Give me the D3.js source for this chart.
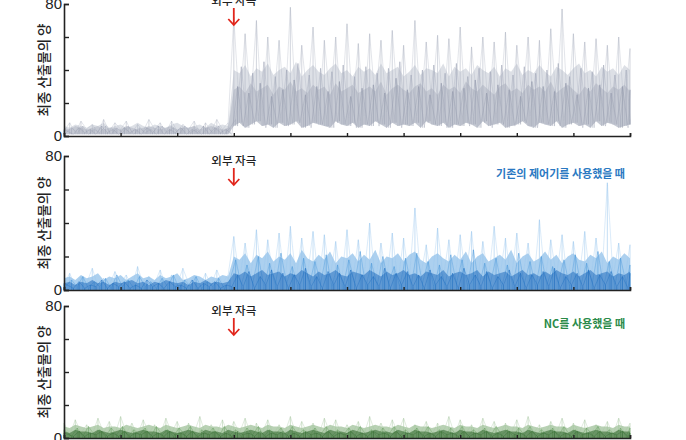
<!DOCTYPE html>
<html><head><meta charset="utf-8">
<script src="https://cdn.jsdelivr.net/npm/d3@7"></script>
<style>body{margin:0;background:#fff}svg{display:block}</style>
</head><body>
<svg id="c" width="686" height="440"></svg>
<script>
// ---- data ----
const xTicks = [0,10,20,30,40,50,60,70,80,90,100];
const yTicks = [0,20,40,60,80];
const yTickLabels = {0:"0", 80:"80"};
const stimulusX = 30;
const yTitle = "최종 산출물의 양";
const stimulusLabel = "외부 자극";
const legendLabels = ["", "기존의 제어기를 사용했을 때", "NC를 사용했을 때"];

// panel 1 (gray) : dense band (lower/upper edge), darker core, and spiky traces
const gBandLo = [1,1,1,1,1,1,1,1,1,1,1,1,1,1,1,1,1,1,1,1,1,1,1,1,1,1,1,1,1,1,
 6,8,5,7,9,6,7,5,8,6,7,9,5,6,8,7,6,5,9,7,6,8,5,7,6,9,7,5,8,6,
 7,6,8,5,9,7,6,8,5,7,6,8,7,5,9,6,7,8,5,6,7,9,6,5,8,7,6,9,5,7,
 8,6,7,5,9,6,8,7,5,6,7];
const gBandHi = [6,5,7,6,5,7,6,8,5,6,7,5,6,8,6,5,7,6,5,7,8,6,5,6,7,5,8,6,7,6,
 40,38,43,36,41,39,44,37,40,42,38,45,36,40,43,39,37,41,44,38,40,36,42,39,41,37,44,38,40,42,
 36,39,43,37,41,40,38,44,36,42,39,41,37,43,40,38,42,36,41,39,44,37,40,38,43,39,36,42,40,37,
 41,44,38,40,36,42,39,41,37,43,40];
const gCore = [5,4,6,5,4,5,6,4,5,5,4,6,5,4,5,6,5,4,5,6,4,5,5,6,4,5,6,5,4,5,
 28,30,26,32,27,29,31,25,30,28,33,27,29,26,31,28,30,25,32,27,29,31,26,28,30,27,33,25,29,31,
 28,26,30,32,27,29,25,31,28,30,26,33,29,27,31,28,25,30,32,27,29,26,31,28,30,27,33,26,29,31,
 28,25,30,27,32,29,26,30,28,31,27];
const gHigh = [3,8,2,9,4,7,2,10,3,8,4,9,2,7,3,10,4,8,2,9,3,7,4,9,2,8,3,10,4,8,
 72,15,62,20,70,12,60,18,58,14,78,16,55,22,66,12,58,20,60,15,68,18,56,12,62,20,58,14,64,18,
 55,12,70,16,57,20,61,14,59,18,66,12,54,20,60,15,57,18,63,12,55,20,60,16,58,12,65,18,77,14,
 62,20,57,12,59,18,55,14,60,16,53];
const gMid = [1,5,2,6,1,4,2,6,1,5,2,6,1,5,2,4,1,6,2,5,1,6,2,4,1,5,2,6,1,5,
 10,42,8,38,12,45,9,36,11,40,8,44,12,37,9,41,10,39,8,43,11,36,9,42,12,38,8,41,10,45,
 9,37,12,40,8,43,11,38,9,44,10,36,12,41,8,39,11,43,9,37,10,42,12,38,8,40,11,44,9,36,
 12,41,8,39,10,43,9,37,11,40,10];
const gLow = [4,1,5,2,4,1,6,2,4,1,5,2,4,1,5,2,6,1,4,2,5,1,4,2,6,1,5,2,4,1,
 30,6,26,8,32,5,24,7,28,6,34,8,25,5,30,7,27,6,33,8,24,5,29,7,31,6,26,8,35,5,
 28,7,30,6,25,8,32,5,27,7,29,6,34,8,26,5,31,7,28,6,24,8,33,5,30,7,27,6,32,8,
 25,5,29,7,31,6,26,8,30,5,28];

// panel 2 (blue, conventional controller)
const bBandHi = [7,8,6,9,7,8,10,6,8,7,9,6,8,10,7,8,6,9,7,8,10,6,7,9,8,6,8,7,9,8,
 20,18,22,16,21,19,23,17,20,18,22,16,24,19,17,21,18,23,16,20,19,22,17,21,18,24,16,20,19,22,
 17,21,23,18,16,20,22,19,17,21,18,23,16,20,22,17,19,21,18,24,16,20,22,17,19,23,18,21,16,20,
 22,18,17,21,19,23,16,20,18,22,19];
const bCore = [4,5,3,5,4,6,4,5,3,5,4,5,6,4,5,3,5,4,6,5,4,5,3,5,4,6,4,5,4,5,
 10,9,11,8,10,12,9,10,11,8,10,9,12,10,8,11,9,10,12,9,8,11,10,9,12,10,8,11,9,10,
 12,9,10,8,11,10,9,12,8,10,11,9,10,12,8,11,9,10,11,8,10,12,9,10,8,11,9,12,10,9,
 11,8,10,12,9,10,11,8,10,9,11];
const bHigh = [3,10,2,8,4,13,2,7,3,11,4,9,2,14,3,8,4,12,2,9,3,13,4,8,2,10,3,12,4,9,
 32,6,28,8,36,5,30,7,34,4,38,6,31,8,35,5,33,7,29,4,36,6,30,8,40,5,28,7,34,4,
 31,6,49,8,27,5,37,7,30,4,33,7,35,4,29,6,38,8,31,5,34,7,28,4,42,6,30,8,33,5,
 29,7,35,4,31,6,64,8,28,5,27];
const bMid = [1,6,2,8,1,5,2,7,1,9,2,6,1,8,2,5,1,7,2,9,1,6,2,8,1,5,2,7,1,6,
 18,3,15,4,20,2,16,3,22,4,14,2,19,3,17,4,21,2,15,3,18,4,23,2,16,3,20,4,14,2,
 19,3,22,4,17,2,15,3,21,4,18,2,24,3,16,4,19,2,15,3,22,4,17,2,20,3,14,4,18,2,
 21,3,16,4,23,2,17,3,19,4,15];
const bLow = [4,1,5,1,3,2,6,1,4,2,5,1,3,1,6,2,4,1,5,2,3,1,6,1,4,2,5,1,3,2,
 9,2,11,1,8,3,12,2,10,1,9,3,13,2,8,1,11,3,10,2,12,1,9,3,8,2,13,1,10,3,
 11,2,9,1,12,3,8,2,10,1,13,3,9,2,11,1,8,3,12,2,10,1,9,3,11,2,13,1,8,3,
 10,2,12,1,9,3,11,2,8,1,10];

// panel 3 (green, NC)
const nBandHi = [7,6,8,7,6,7,8,6,7,7,6,8,7,6,7,8,7,6,8,7,6,7,8,7,6,8,7,7,6,8,
 7,6,7,8,7,6,8,7,7,6,8,7,6,7,8,7,6,8,7,7,6,8,7,6,7,8,7,7,6,8,
 7,6,8,7,7,6,7,8,7,6,8,7,7,6,8,7,6,7,8,7,7,6,8,7,6,7,8,7,7,6,
 8,7,6,7,8,7,7,6,8,7,7];
const nCore = [4,3,5,4,4,3,5,4,3,4,5,4,3,4,5,4,4,3,5,4,3,4,5,4,3,5,4,4,3,5,
 4,3,4,5,4,3,5,4,4,3,5,4,3,4,5,4,3,5,4,4,3,5,4,3,4,5,4,4,3,5,
 4,3,5,4,4,3,4,5,4,3,5,4,4,3,5,4,3,4,5,4,4,3,5,4,3,4,5,4,4,3,
 5,4,3,4,5,4,4,3,5,4,4];
const nHigh = [9,2,11,3,8,2,12,3,10,2,13,3,9,2,11,3,8,2,12,3,10,2,9,3,13,2,8,3,11,2,
 10,3,12,2,9,3,11,2,8,3,13,2,10,3,9,2,12,3,11,2,8,3,10,2,13,3,9,2,11,3,
 12,2,8,3,10,2,9,3,13,2,11,3,8,2,12,3,10,2,9,3,11,2,13,3,8,2,10,3,12,2,
 9,3,11,2,8,3,10,2,12,3,9];
const nMid = [5,1,6,1,7,2,5,1,6,2,7,1,5,2,6,1,7,2,5,1,6,2,7,1,5,2,6,1,7,2,
 5,1,6,2,7,1,5,2,6,1,7,2,5,1,6,2,7,1,5,2,6,1,7,2,5,1,6,2,7,1,
 5,2,6,1,7,2,5,1,6,2,7,1,5,2,6,1,7,2,5,1,6,2,7,1,5,2,6,1,7,2,
 5,1,6,2,7,1,5,2,6,1,6];
const nLow = [3,1,4,1,3,2,4,1,3,1,4,1,3,2,4,1,3,1,4,2,3,1,4,1,3,2,4,1,3,1,
 4,2,3,1,4,1,3,2,4,1,3,1,4,2,3,1,4,1,3,2,4,1,3,1,4,2,3,1,4,1,
 3,2,4,1,3,1,4,2,3,1,4,1,3,2,4,1,3,1,4,2,3,1,4,1,3,2,4,1,3,1,
 4,2,3,1,4,1,3,2,4,1,3];

// ---- layout ----
const xL = 64, xR = 630;
const panels = [
  {top:4,   bottom:136, bandLo:gBandLo, bandHi:gBandHi, core:gCore, bandCol:"#bcc1cd", coreCol:"#979eb0", bandOp:0.5, coreOp:0.35,
   series:[gHigh,gMid,gLow], cols:["#b0b5c4","#a0a6b7","#8e95a8"], legendCol:null, textY:0, arrowY:[8,25]},
  {top:156, bottom:290, bandLo:null, bandHi:bBandHi, core:bCore, bandCol:"#5aa1df", coreCol:"#1766ba", bandOp:0.5, coreOp:0.5,
   series:[bHigh,bMid,bLow], cols:["#98c5ed","#4596da","#1a6bbf"], legendCol:"#2a78c2", textY:160, arrowY:[168,185]},
  {top:306, bottom:438, bandLo:null, bandHi:nBandHi, core:nCore, bandCol:"#6fa367", coreCol:"#2b6428", bandOp:0.5, coreOp:0.55,
   series:[nHigh,nMid,nLow], cols:["#a6c7a0","#5f9a57","#357030"], legendCol:"#2a8a48", textY:310, arrowY:[318,335]}
];

const svg = d3.select("#c");
const defs = svg.append("defs");
defs.append("filter").attr("id","soft").attr("x","-5%").attr("y","-5%").attr("width","110%").attr("height","110%")
  .append("feGaussianBlur").attr("stdDeviation",0.5);
const x = d3.scaleLinear().domain([0,100]).range([xL,xR]);
const offsets = [0, 0.33, 0.66];

panels.forEach((p, pi) => {
  const y = d3.scaleLinear().domain([0,80]).range([p.bottom,p.top]);
  const lo = i => p.bandLo ? p.bandLo[i] : 0;
  const g = svg.append("g");
  const dg = g.append("g").attr("filter","url(#soft)");
  const bandArea = d3.area().x((d,i)=>x(i)).y0((d,i)=>y(lo(i))).y1(d=>y(d));
  dg.append("path").attr("d", bandArea(p.bandHi)).attr("fill", p.bandCol).attr("fill-opacity", p.bandOp);

  // spiky traces: needles + connecting lines
  const needleOp = [0.5, 0.5, 0.55];
  p.series.forEach((vals, si) => {
    const xs = vals.map((v,i) => Math.min(100, i === 0 ? 0 : i + offsets[si]));
    dg.append("g").selectAll("line").data(vals).join("line")
      .attr("x1",(d,i)=>x(xs[i])).attr("x2",(d,i)=>x(xs[i]))
      .attr("y1",(d,i)=>y(Math.min(d, lo(i)))).attr("y2",d=>y(d))
      .attr("stroke", p.cols[si]).attr("stroke-width", 1.1).attr("stroke-opacity", needleOp[si]);
    const line = d3.line().x((d,i)=>x(xs[i])).y(d=>y(d));
    dg.append("path").attr("d", line(vals)).attr("fill","none").attr("stroke", p.cols[si])
      .attr("stroke-width", 0.7).attr("stroke-opacity", 0.5);
  });
  // darker core
  dg.append("path").attr("d", bandArea(p.core)).attr("fill", p.coreCol).attr("fill-opacity", p.coreOp);

  // axes
  const ax = g.append("g").attr("transform", `translate(0,${p.bottom})`)
    .call(d3.axisBottom(x).tickValues(xTicks).tickSize(-3).tickFormat(""));
  ax.select(".domain").attr("stroke","#222").attr("stroke-width",1.6);
  ax.selectAll(".tick line").attr("stroke","#222").attr("stroke-width",1.4);

  const ay = g.append("g").attr("transform", `translate(${xL},0)`)
    .call(d3.axisLeft(y).tickValues(yTicks).tickSize(-5).tickPadding(3).tickFormat(d => yTickLabels[d] || ""));
  ay.select(".domain").attr("stroke","#222").attr("stroke-width",1.6);
  ay.selectAll(".tick line").attr("stroke","#222").attr("stroke-width",1.4);
  ay.selectAll(".tick text").attr("font-family","'Liberation Sans', Arial, sans-serif")
    .attr("font-size",15).attr("fill","#222").attr("x",-2);

  // y title
  g.append("text").attr("transform", `translate(43,${(p.top+p.bottom)/2}) rotate(-90)`)
    .attr("text-anchor","middle").attr("dominant-baseline","central")
    .attr("font-family","'Noto Sans CJK KR', sans-serif").attr("font-size",13.5).attr("font-weight",500)
    .attr("fill","#222").text(yTitle);

  // stimulus annotation
  const sx = x(stimulusX);
  g.append("text").attr("x", sx).attr("y", p.textY).attr("text-anchor","middle")
    .attr("dominant-baseline","central").attr("font-family","'Noto Sans CJK KR', sans-serif")
    .attr("font-size",11.5).attr("font-weight",500).attr("fill","#222").text(stimulusLabel);
  g.append("line").attr("x1",sx).attr("x2",sx).attr("y1",p.arrowY[0]).attr("y2",p.arrowY[1]-1)
    .attr("stroke","#e1251b").attr("stroke-width",1.8);
  g.append("path").attr("d", `M${sx-5.5},${p.arrowY[1]-6} L${sx},${p.arrowY[1]} L${sx+5.5},${p.arrowY[1]-6}`)
    .attr("fill","none").attr("stroke","#e1251b").attr("stroke-width",1.8);

  if (p.legendCol) {
    g.append("text").attr("x", 625).attr("y", p.textY + 13).attr("text-anchor","end")
      .attr("dominant-baseline","central").attr("font-family","'Noto Sans CJK KR', sans-serif")
      .attr("font-size",11).attr("font-weight",700).attr("fill",p.legendCol).text(legendLabels[pi]);
  }
});
</script>
</body></html>
